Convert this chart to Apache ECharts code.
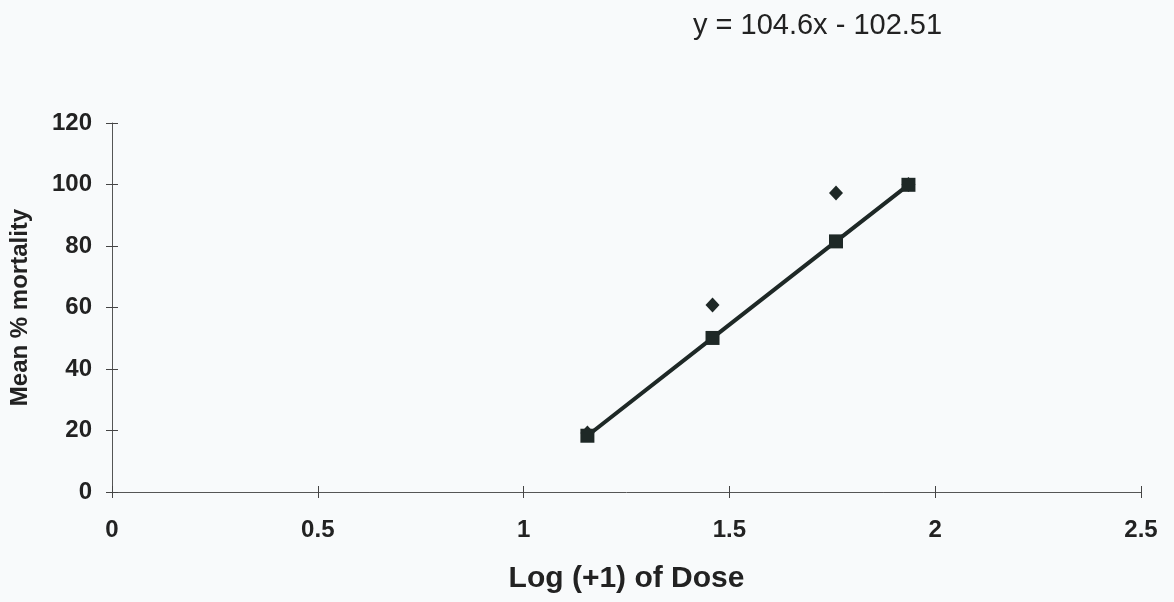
<!DOCTYPE html>
<html>
<head>
<meta charset="utf-8">
<script src="https://cdn.jsdelivr.net/npm/echarts@6/dist/echarts.min.js"></script>
<style>
  html, body { margin: 0; padding: 0; background: #f8fafb; }
  #chart { width: 1174px; height: 602px; }
</style>
</head>
<body>
<div id="chart"></div>
<script>
// Log(+1) of dose for each treatment
const logDose = [1.155, 1.459, 1.759, 1.935];
// Observed mean % mortality (diamonds)
const observedMortality = [19.2, 60.8, 97.2, 100];
// Mortality on the fitted regression line (squares)
const fittedMortality = [18.3, 50.1, 81.5, 99.9];
const equationText = 'y = 104.6x - 102.51';
const xTicks = [0, 0.5, 1, 1.5, 2, 2.5];
const yTicks = [0, 20, 40, 60, 80, 100, 120];

const ink = '#1e2826';
const font = 'Arial, "Liberation Sans", sans-serif';

const observedPts = logDose.map((x, i) => [x, observedMortality[i]]);
const fittedPts = logDose.map((x, i) => [x, fittedMortality[i]]);

const grid = { left: 112, right: 33, top: 123, bottom: 110 };

function xAxisDef(inside, show) {
  return {
    type: 'value', min: xTicks[0], max: xTicks[xTicks.length - 1], interval: 0.5,
    position: 'bottom',
    axisLine: { show: show, onZero: false, lineStyle: { color: '#555', width: 1 } },
    axisTick: { show: true, inside: inside, length: 6, lineStyle: { color: '#444', width: 1 } },
    axisLabel: {
      show: show, margin: 26, color: '#222', fontFamily: font, fontWeight: 'bold', fontSize: 24
    },
    splitLine: { show: false },
    name: show ? 'Log (+1) of Dose' : '',
    nameLocation: 'middle', nameGap: 72,
    nameTextStyle: { color: '#222', fontFamily: font, fontWeight: 'bold', fontSize: 30 }
  };
}
function yAxisDef(inside, show) {
  return {
    type: 'value', min: yTicks[0], max: yTicks[yTicks.length - 1], interval: 20,
    position: 'left',
    axisLine: { show: show, onZero: false, lineStyle: { color: '#555', width: 1 } },
    axisTick: { show: true, inside: inside, length: 6, lineStyle: { color: '#444', width: 1 } },
    axisLabel: {
      show: show, margin: 20, color: '#222', fontFamily: font, fontWeight: 'bold', fontSize: 24
    },
    splitLine: { show: false },
    name: show ? 'Mean % mortality' : '',
    nameLocation: 'middle', nameGap: 80, nameRotate: 90,
    nameTextStyle: { color: '#222', fontFamily: font, fontWeight: 'bold', fontSize: 24 }
  };
}

const chart = echarts.init(document.getElementById('chart'), null, { renderer: 'canvas' });
chart.setOption({
  backgroundColor: '#f8fafb',
  animation: false,
  grid: grid,
  title: {
    text: equationText,
    left: 688, top: 6,
    textStyle: { color: '#222', fontFamily: font, fontWeight: 'normal', fontSize: 29 }
  },
  // outer ticks on the primary axes, inner ticks on the overlay axes so they cross the line
  xAxis: [xAxisDef(false, true), xAxisDef(true, false)],
  yAxis: [yAxisDef(false, true), yAxisDef(true, false)],
  series: [
    {
      name: 'Fitted', type: 'line', data: fittedPts,
      xAxisIndex: 0, yAxisIndex: 0,
      symbol: 'rect', symbolSize: 14,
      lineStyle: { color: ink, width: 4 },
      itemStyle: { color: ink },
      z: 3
    },
    {
      name: 'Observed', type: 'scatter', data: observedPts,
      xAxisIndex: 0, yAxisIndex: 0,
      symbol: 'diamond', symbolSize: [14, 15],
      itemStyle: { color: ink, opacity: 1 },
      z: 2
    }
  ]
});
</script>
</body>
</html>
